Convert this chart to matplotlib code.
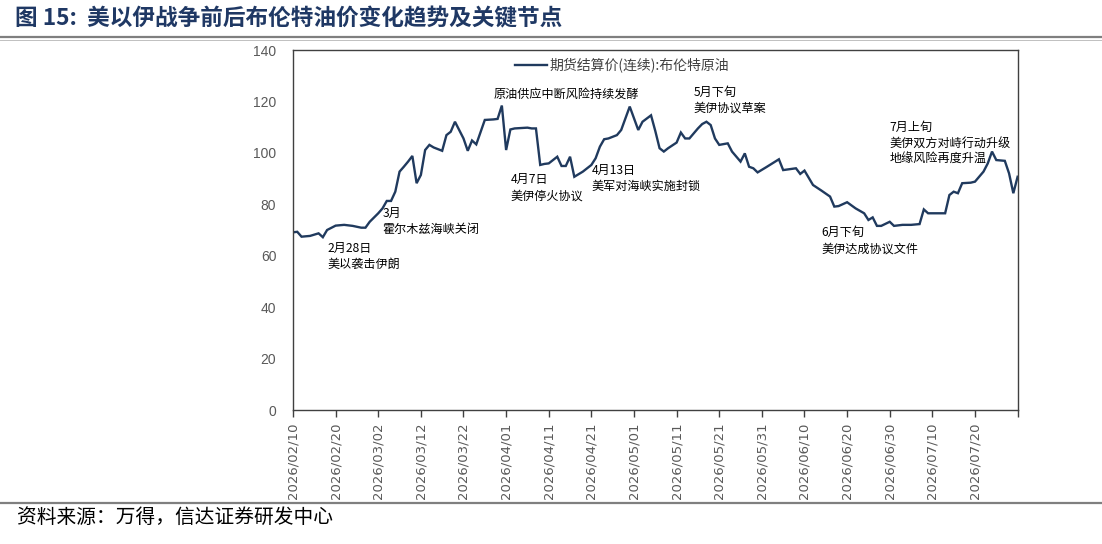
import matplotlib
matplotlib.use("Agg")
import matplotlib.pyplot as plt
import matplotlib.dates as mdates
from matplotlib.lines import Line2D
import pandas as pd

plt.rcParams['font.family'] = ['Noto Sans CJK SC', 'DejaVu Sans']

# ---------------- data ----------------
dates = [
    "2026-02-10", "2026-02-11", "2026-02-12", "2026-02-14", "2026-02-16", "2026-02-17",
    "2026-02-18", "2026-02-20", "2026-02-22", "2026-02-24", "2026-02-26", "2026-02-27",
    "2026-02-28", "2026-03-02", "2026-03-03", "2026-03-04", "2026-03-05", "2026-03-06",
    "2026-03-07", "2026-03-08", "2026-03-09", "2026-03-10", "2026-03-11", "2026-03-12",
    "2026-03-13", "2026-03-14", "2026-03-15", "2026-03-17", "2026-03-18", "2026-03-19",
    "2026-03-20", "2026-03-22", "2026-03-23", "2026-03-24", "2026-03-25", "2026-03-27",
    "2026-03-29", "2026-03-30", "2026-03-31", "2026-04-01", "2026-04-02", "2026-04-03",
    "2026-04-06", "2026-04-07", "2026-04-08", "2026-04-09", "2026-04-10", "2026-04-11",
    "2026-04-12", "2026-04-13", "2026-04-14", "2026-04-15", "2026-04-16", "2026-04-17",
    "2026-04-19", "2026-04-21", "2026-04-22", "2026-04-23", "2026-04-24", "2026-04-25",
    "2026-04-27", "2026-04-28", "2026-04-30", "2026-05-02", "2026-05-03", "2026-05-05",
    "2026-05-06", "2026-05-07", "2026-05-08", "2026-05-09", "2026-05-11", "2026-05-12",
    "2026-05-13", "2026-05-14", "2026-05-16", "2026-05-17", "2026-05-18", "2026-05-19",
    "2026-05-20", "2026-05-21", "2026-05-23", "2026-05-24", "2026-05-26", "2026-05-27",
    "2026-05-28", "2026-05-29", "2026-05-30", "2026-06-01", "2026-06-04", "2026-06-05",
    "2026-06-08", "2026-06-09", "2026-06-10", "2026-06-12", "2026-06-14", "2026-06-16",
    "2026-06-17", "2026-06-18", "2026-06-20", "2026-06-22", "2026-06-24", "2026-06-25",
    "2026-06-26", "2026-06-27", "2026-06-28", "2026-06-30", "2026-07-01", "2026-07-03",
    "2026-07-05", "2026-07-07", "2026-07-08", "2026-07-09", "2026-07-13", "2026-07-14",
    "2026-07-15", "2026-07-16", "2026-07-17", "2026-07-19", "2026-07-20", "2026-07-22",
    "2026-07-23", "2026-07-24", "2026-07-25", "2026-07-27", "2026-07-28", "2026-07-29",
    "2026-07-30",
]
brent = [
    69.1, 69.3, 67.4, 67.7, 68.7, 67.2,
    70.0, 71.7, 72.0, 71.6, 70.9, 70.9,
    73.2, 76.5, 78.4, 81.3, 81.3, 84.9,
    92.7, 94.6, 96.6, 98.8, 88.2, 91.4,
    101.1, 103.1, 102.1, 100.8, 106.9, 108.2,
    112.1, 105.6, 100.8, 104.8, 103.3, 112.8,
    113.0, 113.2, 118.4, 101.1, 109.1, 109.5,
    109.8, 109.5, 109.5, 95.3, 95.7, 95.9,
    97.2, 98.5, 94.9, 94.9, 98.5, 90.7,
    92.7, 95.3, 97.9, 102.4, 105.3, 105.6,
    106.9, 108.9, 118.0, 108.9, 112.1, 114.6,
    108.5, 101.8, 100.5, 101.8, 104.0, 107.9,
    105.6, 105.6, 109.5, 111.2, 112.1, 110.8,
    105.6, 103.1, 103.7, 100.5, 96.6, 99.8,
    94.6, 94.0, 92.4, 94.4, 97.5, 93.3,
    94.0, 91.8, 93.1, 87.5, 85.3, 83.0,
    79.1, 79.3, 80.8, 78.4, 76.5, 73.9,
    74.9, 71.6, 71.6, 73.2, 71.6, 72.0,
    72.0, 72.3, 78.0, 76.5, 76.5, 83.6,
    84.9, 84.3, 88.2, 88.4, 88.8, 92.7,
    95.9, 100.5, 97.2, 96.9, 92.0, 84.3,
    90.7,
]
series_name = "期货结算价(连续):布伦特原油"

y_ticks = [0, 20, 40, 60, 80, 100, 120, 140]
x_start, x_end = "2026-02-10", "2026-07-30"

notes_text = [
    "2月28日\n美以袭击伊朗",
    "3月\n霍尔木兹海峡关闭",
    "原油供应中断风险持续发酵",
    "4月7日\n美伊停火协议",
    "4月13日\n美军对海峡实施封锁",
    "5月下旬\n美伊协议草案",
    "6月下旬\n美伊达成协议文件",
    "7月上旬\n美伊双方对峙行动升级\n地缘风险再度升温",
]
notes_date = ["2026-02-18", "2026-03-03", "2026-03-29", "2026-04-02",
              "2026-04-21", "2026-05-15", "2026-06-14", "2026-06-30"]
notes_y = [65.5, 79.0, 125.5, 92.0, 95.8, 126.0, 71.5, 112.5]

title = "图 15:  美以伊战争前后布伦特油价变化趋势及关键节点"
source = "资料来源：万得，信达证券研发中心"

# ---------------- figure ----------------
W, H = 1102, 544
fig = plt.figure(figsize=(W / 100, H / 100), dpi=100)
fig.patch.set_facecolor("white")

ax_l, ax_r, ax_t, ax_b = 293, 1017.6, 50, 410
ax = fig.add_axes([ax_l / W, 1 - ax_b / H, (ax_r - ax_l) / W, (ax_b - ax_t) / H])

x = pd.to_datetime(dates)
ax.plot(x, brent, color="#203a5e", lw=1.7, label=series_name, solid_joinstyle="miter")

ax.set_ylim(0, 140)
ax.set_yticks(y_ticks)
ax.set_xlim(pd.Timestamp(x_start), pd.Timestamp(x_end))

tick_dates = list(pd.date_range(x_start, x_end, freq="10D"))
ax.set_xticks(tick_dates)
ax.set_xticklabels([d.strftime("%Y/%m/%d") if d < pd.Timestamp(x_end) else "" for d in tick_dates],
                   rotation=90, fontsize=9.5, color="#595959", family="DejaVu Sans")
for lab in ax.get_yticklabels():
    lab.set_fontfamily("Liberation Sans")
ax.tick_params(axis="y", length=0, pad=12, labelsize=10, labelcolor="#595959")
ax.tick_params(axis="x", length=5, width=1, color="#404040", pad=4)

for s in ax.spines.values():
    s.set_color("#404040")
    s.set_linewidth(1.0)

leg = ax.legend(loc="center left", bbox_to_anchor=((515 - ax_l) / (ax_r - ax_l), (ax_b - 65) / (ax_b - ax_t)),
                frameon=False, fontsize=10, handlelength=2.3, handletextpad=0.2, borderaxespad=0,
                borderpad=0)
for t in leg.get_texts():
    t.set_color("#404040")

for txt, d, yv in zip(notes_text, notes_date, notes_y):
    ax.text(pd.Timestamp(d), yv, txt, ha="left", va="top", fontsize=8.7, color="black",
            linespacing=1.3)

# title and decorative lines
fig.text(15 / W, 1 - 19 / H, title, ha="left", va="center", fontsize=16.3, fontweight="bold",
         color="#1f3864")
fig.add_artist(Line2D([0, 1], [1 - 37 / H, 1 - 37 / H], transform=fig.transFigure, color="#7f7f7f", lw=1.6))
fig.add_artist(Line2D([0, 1], [1 - 40 / H, 1 - 40 / H], transform=fig.transFigure, color="#c0c0c0", lw=0.7))
fig.add_artist(Line2D([0, 1], [1 - 503 / H, 1 - 503 / H], transform=fig.transFigure, color="#7f7f7f", lw=1.6))
fig.text(17 / W, 1 - 517 / H, source, ha="left", va="center", fontsize=14.2, color="black")

fig.savefig("out.png", dpi=100, facecolor="white")
